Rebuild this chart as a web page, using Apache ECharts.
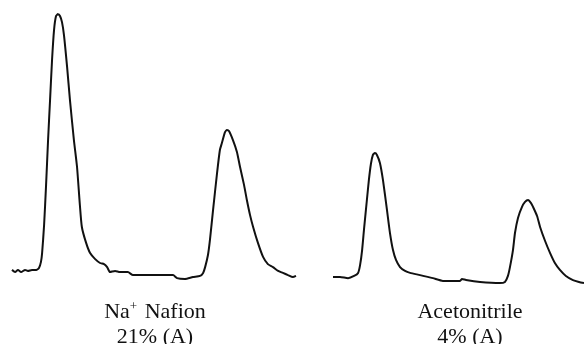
<!DOCTYPE html>
<html>
<head>
<meta charset="utf-8">
<script src="https://cdn.jsdelivr.net/npm/echarts@6/dist/echarts.min.js"></script>
<style>
  html, body { margin: 0; padding: 0; background: #fff; }
  #chart { width: 584px; height: 344px; }
</style>
</head>
<body>
<div id="chart"></div>
<script>
// Na+ Nafion trace: [time (a.u.), signal (a.u.)]
const nafionTrace = [
  [0, 5.5], [1.1, 4.7], [2.1, 5.5], [3.2, 4.7], [4.6, 5.5], [5.6, 5.1], [7.0, 5.5],
  [8.5, 5.5], [9.5, 6.2], [10.2, 8.4], [10.6, 11.6], [11.3, 21.8], [12.0, 36.4],
  [12.7, 52.7], [13.4, 67.3], [14.1, 81.8], [14.8, 92.7], [15.5, 97.8], [16.2, 98.5],
  [16.9, 97.8], [17.6, 95.6], [18.3, 90.9], [19.4, 79.3], [20.4, 67.3], [21.8, 52.7],
  [22.9, 42.9], [23.9, 29.1], [24.6, 21.1], [26.1, 15.3], [27.5, 11.6], [29.2, 9.5],
  [31.0, 8.0], [32.4, 7.6], [33.5, 6.5], [34.5, 4.7], [36.3, 5.1], [38.0, 4.7],
  [40.8, 4.7], [42.6, 3.6], [46.8, 3.6], [52.1, 3.6], [56.7, 3.6], [58.1, 2.5],
  [60.9, 2.2], [63.7, 2.9], [66.2, 3.3], [67.3, 4.4], [68.0, 6.5], [69.0, 10.9],
  [69.7, 16.4], [70.8, 27.3], [72.2, 40.7], [73.2, 49.1], [73.9, 51.6], [75.0, 55.6],
  [75.7, 56.4], [76.4, 56.0], [77.8, 52.7], [79.2, 48.4], [80.3, 42.9], [81.7, 36.4],
  [82.7, 30.9], [83.8, 25.5], [84.9, 21.1], [86.6, 15.3], [88.4, 10.2], [90.1, 7.6],
  [91.9, 6.5], [93.7, 5.1], [95.4, 4.4], [97.2, 3.6], [98.9, 2.9], [100, 3.3]
];

// Acetonitrile trace
const acetonitrileTrace = [
  [0, 2.9], [2.8, 2.9], [6.0, 2.5], [8.4, 3.3], [10.0, 4.4], [10.8, 7.3], [11.6, 12.7],
  [12.4, 20.7], [13.5, 30.9], [14.3, 38.2], [15.1, 44.0], [15.9, 47.3], [16.7, 48.0],
  [17.5, 47.3], [18.7, 44.4], [19.9, 38.2], [21.5, 27.3], [22.7, 18.9], [23.9, 12.7],
  [25.1, 9.1], [26.7, 6.5], [28.7, 5.1], [30.7, 4.4], [34.7, 3.6], [39.8, 2.5],
  [43.8, 1.5], [50.6, 1.5], [51.4, 2.2], [53.0, 1.8], [58.6, 1.1], [66.5, 0.7],
  [68.5, 1.1], [69.7, 3.3], [70.5, 6.5], [71.7, 12.7], [72.5, 18.9], [73.7, 24.4],
  [75.3, 28.4], [76.5, 30.2], [77.7, 30.9], [78.9, 29.8], [79.7, 28.4], [81.3, 25.1],
  [82.5, 21.1], [84.5, 16.0], [86.5, 11.6], [88.4, 8.0], [90.4, 5.5], [92.8, 3.3],
  [95.6, 1.8], [98.0, 1.1], [100, 0.7]
];

const panelLabels = ['Na{sup|+} Nafion\n21% (A)', 'Acetonitrile\n4% (A)'];

const chart = echarts.init(document.getElementById('chart'));

const labelStyle = {
  fontFamily: 'Liberation Serif',
  fontSize: 22,
  fontWeight: 'normal',
  color: '#111',
  lineHeight: 25,
  rich: {
    sup: { fontFamily: 'Liberation Serif', fontSize: 13, color: '#111', verticalAlign: 'top', padding: [0, 2, 10, 0] }
  }
};

const hiddenX = (i) => ({ type: 'value', gridIndex: i, min: 0, max: 100, show: false });
const hiddenY = (i) => ({ type: 'value', gridIndex: i, min: 0, max: 100, show: false });

const option = {
  animation: false,
  backgroundColor: '#fff',
  title: [
    { text: panelLabels[0], left: 150, top: 295, textAlign: 'center', textStyle: labelStyle },
    { text: panelLabels[1], left: 465, top: 295, textAlign: 'center', textStyle: labelStyle }
  ],
  grid: [
    { left: 12, right: 288, top: 10, bottom: 59 },
    { left: 333, right: 0, top: 10, bottom: 59 }
  ],
  xAxis: [hiddenX(0), hiddenX(1)],
  yAxis: [hiddenY(0), hiddenY(1)],
  series: [
    {
      name: 'Na+ Nafion', type: 'line', xAxisIndex: 0, yAxisIndex: 0,
      data: nafionTrace, showSymbol: false, smooth: 0.2,
      lineStyle: { color: '#111', width: 2 }
    },
    {
      name: 'Acetonitrile', type: 'line', xAxisIndex: 1, yAxisIndex: 1,
      data: acetonitrileTrace, showSymbol: false, smooth: 0.2,
      lineStyle: { color: '#111', width: 2 }
    }
  ]
};

chart.setOption(option);
</script>
</body>
</html>
